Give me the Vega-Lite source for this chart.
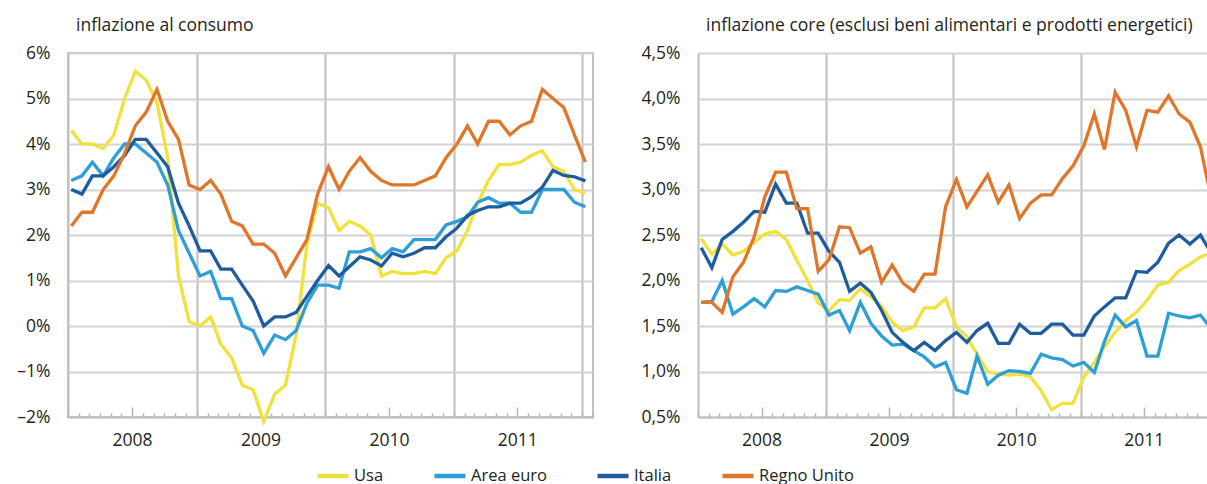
{
  "$schema": "https://vega.github.io/schema/vega-lite/v6.json",
  "background": "white",
  "padding": {"left": 5, "top": 15, "right": 0, "bottom": 0},
  "spacing": 41,
  "config": {
    "font": "Open Sans",
    "view": {"stroke": null},
    "title": {"fontSize": 17.5, "fontWeight": "normal", "color": "#231F20", "anchor": "start", "frame": "group", "dx": 8, "offset": 10}
  },
  "datasets": {
    "consumo": [
      {"d": "2008-01", "Usa": 4.3, "Area euro": 3.2, "Italia": 3.0, "Regno Unito": 2.2},
      {"d": "2008-02", "Usa": 4.0, "Area euro": 3.3, "Italia": 2.9, "Regno Unito": 2.5},
      {"d": "2008-03", "Usa": 4.0, "Area euro": 3.6, "Italia": 3.3, "Regno Unito": 2.5},
      {"d": "2008-04", "Usa": 3.9, "Area euro": 3.3, "Italia": 3.3, "Regno Unito": 3.0},
      {"d": "2008-05", "Usa": 4.2, "Area euro": 3.7, "Italia": 3.5, "Regno Unito": 3.3},
      {"d": "2008-06", "Usa": 5.0, "Area euro": 4.0, "Italia": 3.75, "Regno Unito": 3.8},
      {"d": "2008-07", "Usa": 5.6, "Area euro": 4.0, "Italia": 4.1, "Regno Unito": 4.4},
      {"d": "2008-08", "Usa": 5.4, "Area euro": 3.8, "Italia": 4.1, "Regno Unito": 4.7},
      {"d": "2008-09", "Usa": 4.9, "Area euro": 3.6, "Italia": 3.8, "Regno Unito": 5.2},
      {"d": "2008-10", "Usa": 3.7, "Area euro": 3.1, "Italia": 3.5, "Regno Unito": 4.5},
      {"d": "2008-11", "Usa": 1.1, "Area euro": 2.1, "Italia": 2.7, "Regno Unito": 4.1},
      {"d": "2008-12", "Usa": 0.1, "Area euro": 1.6, "Italia": 2.2, "Regno Unito": 3.1},
      {"d": "2009-01", "Usa": 0.0, "Area euro": 1.1, "Italia": 1.65, "Regno Unito": 3.0},
      {"d": "2009-02", "Usa": 0.2, "Area euro": 1.2, "Italia": 1.65, "Regno Unito": 3.2},
      {"d": "2009-03", "Usa": -0.4, "Area euro": 0.6, "Italia": 1.25, "Regno Unito": 2.9},
      {"d": "2009-04", "Usa": -0.7, "Area euro": 0.6, "Italia": 1.25, "Regno Unito": 2.3},
      {"d": "2009-05", "Usa": -1.3, "Area euro": 0.0, "Italia": 0.9, "Regno Unito": 2.2},
      {"d": "2009-06", "Usa": -1.4, "Area euro": -0.1, "Italia": 0.55, "Regno Unito": 1.8},
      {"d": "2009-07", "Usa": -2.1, "Area euro": -0.6, "Italia": 0.0, "Regno Unito": 1.8},
      {"d": "2009-08", "Usa": -1.5, "Area euro": -0.2, "Italia": 0.2, "Regno Unito": 1.6},
      {"d": "2009-09", "Usa": -1.3, "Area euro": -0.3, "Italia": 0.2, "Regno Unito": 1.1},
      {"d": "2009-10", "Usa": -0.2, "Area euro": -0.1, "Italia": 0.3, "Regno Unito": 1.5},
      {"d": "2009-11", "Usa": 1.8, "Area euro": 0.5, "Italia": 0.65, "Regno Unito": 1.9},
      {"d": "2009-12", "Usa": 2.7, "Area euro": 0.9, "Italia": 1.0, "Regno Unito": 2.9},
      {"d": "2010-01", "Usa": 2.6, "Area euro": 0.9, "Italia": 1.33, "Regno Unito": 3.5},
      {"d": "2010-02", "Usa": 2.1, "Area euro": 0.83, "Italia": 1.1, "Regno Unito": 3.0},
      {"d": "2010-03", "Usa": 2.3, "Area euro": 1.63, "Italia": 1.3, "Regno Unito": 3.4},
      {"d": "2010-04", "Usa": 2.2, "Area euro": 1.63, "Italia": 1.52, "Regno Unito": 3.7},
      {"d": "2010-05", "Usa": 2.0, "Area euro": 1.7, "Italia": 1.45, "Regno Unito": 3.4},
      {"d": "2010-06", "Usa": 1.1, "Area euro": 1.5, "Italia": 1.32, "Regno Unito": 3.2},
      {"d": "2010-07", "Usa": 1.2, "Area euro": 1.7, "Italia": 1.6, "Regno Unito": 3.1},
      {"d": "2010-08", "Usa": 1.15, "Area euro": 1.63, "Italia": 1.52, "Regno Unito": 3.1},
      {"d": "2010-09", "Usa": 1.15, "Area euro": 1.9, "Italia": 1.6, "Regno Unito": 3.1},
      {"d": "2010-10", "Usa": 1.2, "Area euro": 1.9, "Italia": 1.72, "Regno Unito": 3.2},
      {"d": "2010-11", "Usa": 1.15, "Area euro": 1.9, "Italia": 1.72, "Regno Unito": 3.3},
      {"d": "2010-12", "Usa": 1.5, "Area euro": 2.22, "Italia": 1.96, "Regno Unito": 3.7},
      {"d": "2011-01", "Usa": 1.65, "Area euro": 2.3, "Italia": 2.15, "Regno Unito": 4.0},
      {"d": "2011-02", "Usa": 2.1, "Area euro": 2.4, "Italia": 2.43, "Regno Unito": 4.4},
      {"d": "2011-03", "Usa": 2.7, "Area euro": 2.72, "Italia": 2.54, "Regno Unito": 4.0},
      {"d": "2011-04", "Usa": 3.2, "Area euro": 2.82, "Italia": 2.62, "Regno Unito": 4.5},
      {"d": "2011-05", "Usa": 3.55, "Area euro": 2.7, "Italia": 2.62, "Regno Unito": 4.5},
      {"d": "2011-06", "Usa": 3.55, "Area euro": 2.7, "Italia": 2.7, "Regno Unito": 4.2},
      {"d": "2011-07", "Usa": 3.6, "Area euro": 2.5, "Italia": 2.7, "Regno Unito": 4.4},
      {"d": "2011-08", "Usa": 3.75, "Area euro": 2.5, "Italia": 2.84, "Regno Unito": 4.5},
      {"d": "2011-09", "Usa": 3.85, "Area euro": 3.0, "Italia": 3.05, "Regno Unito": 5.2},
      {"d": "2011-10", "Usa": 3.5, "Area euro": 3.0, "Italia": 3.42, "Regno Unito": 5.0},
      {"d": "2011-11", "Usa": 3.4, "Area euro": 3.0, "Italia": 3.31, "Regno Unito": 4.8},
      {"d": "2011-12", "Usa": 3.0, "Area euro": 2.72, "Italia": 3.28, "Regno Unito": 4.2},
      {"d": "2012-01", "Usa": 2.92, "Area euro": 2.62, "Italia": 3.19, "Regno Unito": 3.6}
    ],
    "core": [
      {"d": "2008-01", "Usa": 2.46, "Area euro": 1.76, "Italia": 2.36, "Regno Unito": 1.76},
      {"d": "2008-02", "Usa": 2.29, "Area euro": 1.77, "Italia": 2.14, "Regno Unito": 1.76},
      {"d": "2008-03", "Usa": 2.40, "Area euro": 2.00, "Italia": 2.45, "Regno Unito": 1.65},
      {"d": "2008-04", "Usa": 2.28, "Area euro": 1.63, "Italia": 2.54, "Regno Unito": 2.04},
      {"d": "2008-05", "Usa": 2.32, "Area euro": 1.71, "Italia": 2.64, "Regno Unito": 2.20},
      {"d": "2008-06", "Usa": 2.42, "Area euro": 1.80, "Italia": 2.76, "Regno Unito": 2.48},
      {"d": "2008-07", "Usa": 2.51, "Area euro": 1.71, "Italia": 2.75, "Regno Unito": 2.92},
      {"d": "2008-08", "Usa": 2.54, "Area euro": 1.89, "Italia": 3.06, "Regno Unito": 3.19},
      {"d": "2008-09", "Usa": 2.45, "Area euro": 1.88, "Italia": 2.85, "Regno Unito": 3.19},
      {"d": "2008-10", "Usa": 2.22, "Area euro": 1.93, "Italia": 2.85, "Regno Unito": 2.79},
      {"d": "2008-11", "Usa": 2.00, "Area euro": 1.89, "Italia": 2.52, "Regno Unito": 2.79},
      {"d": "2008-12", "Usa": 1.75, "Area euro": 1.85, "Italia": 2.52, "Regno Unito": 2.10},
      {"d": "2009-01", "Usa": 1.67, "Area euro": 1.62, "Italia": 2.32, "Regno Unito": 2.23},
      {"d": "2009-02", "Usa": 1.79, "Area euro": 1.67, "Italia": 2.20, "Regno Unito": 2.59},
      {"d": "2009-03", "Usa": 1.78, "Area euro": 1.45, "Italia": 1.88, "Regno Unito": 2.58},
      {"d": "2009-04", "Usa": 1.91, "Area euro": 1.76, "Italia": 1.97, "Regno Unito": 2.30},
      {"d": "2009-05", "Usa": 1.82, "Area euro": 1.53, "Italia": 1.87, "Regno Unito": 2.37},
      {"d": "2009-06", "Usa": 1.72, "Area euro": 1.39, "Italia": 1.67, "Regno Unito": 1.98},
      {"d": "2009-07", "Usa": 1.54, "Area euro": 1.29, "Italia": 1.43, "Regno Unito": 2.17},
      {"d": "2009-08", "Usa": 1.45, "Area euro": 1.30, "Italia": 1.32, "Regno Unito": 1.97},
      {"d": "2009-09", "Usa": 1.49, "Area euro": 1.23, "Italia": 1.23, "Regno Unito": 1.88},
      {"d": "2009-10", "Usa": 1.70, "Area euro": 1.16, "Italia": 1.32, "Regno Unito": 2.07},
      {"d": "2009-11", "Usa": 1.70, "Area euro": 1.05, "Italia": 1.23, "Regno Unito": 2.07},
      {"d": "2009-12", "Usa": 1.80, "Area euro": 1.10, "Italia": 1.34, "Regno Unito": 2.81},
      {"d": "2010-01", "Usa": 1.49, "Area euro": 0.80, "Italia": 1.43, "Regno Unito": 3.11},
      {"d": "2010-02", "Usa": 1.38, "Area euro": 0.76, "Italia": 1.32, "Regno Unito": 2.81},
      {"d": "2010-03", "Usa": 1.19, "Area euro": 1.17, "Italia": 1.45, "Regno Unito": 2.98},
      {"d": "2010-04", "Usa": 1.00, "Area euro": 0.86, "Italia": 1.53, "Regno Unito": 3.16},
      {"d": "2010-05", "Usa": 0.97, "Area euro": 0.96, "Italia": 1.31, "Regno Unito": 2.86},
      {"d": "2010-06", "Usa": 0.96, "Area euro": 1.01, "Italia": 1.31, "Regno Unito": 3.05},
      {"d": "2010-07", "Usa": 0.97, "Area euro": 1.00, "Italia": 1.52, "Regno Unito": 2.68},
      {"d": "2010-08", "Usa": 0.94, "Area euro": 0.98, "Italia": 1.42, "Regno Unito": 2.85},
      {"d": "2010-09", "Usa": 0.79, "Area euro": 1.19, "Italia": 1.42, "Regno Unito": 2.94},
      {"d": "2010-10", "Usa": 0.58, "Area euro": 1.15, "Italia": 1.52, "Regno Unito": 2.94},
      {"d": "2010-11", "Usa": 0.65, "Area euro": 1.13, "Italia": 1.52, "Regno Unito": 3.12},
      {"d": "2010-12", "Usa": 0.65, "Area euro": 1.06, "Italia": 1.40, "Regno Unito": 3.26},
      {"d": "2011-01", "Usa": 0.94, "Area euro": 1.10, "Italia": 1.40, "Regno Unito": 3.48},
      {"d": "2011-02", "Usa": 1.10, "Area euro": 0.99, "Italia": 1.61, "Regno Unito": 3.83},
      {"d": "2011-03", "Usa": 1.27, "Area euro": 1.33, "Italia": 1.71, "Regno Unito": 3.44},
      {"d": "2011-04", "Usa": 1.43, "Area euro": 1.62, "Italia": 1.81, "Regno Unito": 4.07},
      {"d": "2011-05", "Usa": 1.56, "Area euro": 1.49, "Italia": 1.81, "Regno Unito": 3.87},
      {"d": "2011-06", "Usa": 1.65, "Area euro": 1.56, "Italia": 2.10, "Regno Unito": 3.47},
      {"d": "2011-07", "Usa": 1.78, "Area euro": 1.17, "Italia": 2.09, "Regno Unito": 3.87},
      {"d": "2011-08", "Usa": 1.95, "Area euro": 1.17, "Italia": 2.20, "Regno Unito": 3.85},
      {"d": "2011-09", "Usa": 1.98, "Area euro": 1.64, "Italia": 2.41, "Regno Unito": 4.03},
      {"d": "2011-10", "Usa": 2.11, "Area euro": 1.61, "Italia": 2.50, "Regno Unito": 3.83},
      {"d": "2011-11", "Usa": 2.18, "Area euro": 1.59, "Italia": 2.40, "Regno Unito": 3.74},
      {"d": "2011-12", "Usa": 2.26, "Area euro": 1.62, "Italia": 2.50, "Regno Unito": 3.47},
      {"d": "2012-01", "Usa": 2.30, "Area euro": 1.47, "Italia": 2.30, "Regno Unito": 2.90}
    ]
  },
  "resolve": {"scale": {"color": "shared", "x": "independent", "y": "independent"}, "legend": {"color": "shared"}},
  "hconcat": [
    {
      "width": 525,
      "height": 364,
      "title": {"text": "inflazione al consumo"},
      "view": {"stroke": "#BEBEC3", "strokeWidth": 2},
      "data": {"name": "consumo"},
      "transform": [{"fold": ["Usa", "Area euro", "Italia", "Regno Unito"], "as": ["paese", "valore"]}],
      "mark": {"type": "line", "strokeWidth": 3.3},
      "encoding": {
        "x": {
          "field": "d", "type": "temporal", "timeUnit": "utcyearmonth", "bandPosition": 0.3,
          "scale": {"type": "utc", "domain": [{"year": 2008, "month": 1, "date": 1, "utc": true}, {"year": 2012, "month": 2, "date": 1, "utc": true}]},
          "axis": {
            "title": null, "orient": "bottom",
            "tickCount": {"interval": "month", "step": 1},
            "labelExpr": "utcmonth(datum.value) == 6 ? '' + utcyear(datum.value) : ''",
            "labelOverlap": false, "labelFlush": false,
            "tickSize": {"condition": {"test": "utcmonth(datum.value) == 6", "value": -10}, "value": -4},
            "tickColor": "#B4B4B9", "tickWidth": 1.5,
            "domainColor": "#BEBEC3", "domainWidth": 2,
            "grid": true,
            "gridOpacity": {"condition": {"test": "utcmonth(datum.value) == 0", "value": 1}, "value": 0},
            "gridColor": "#BEBEC3", "gridWidth": 2,
            "labelPadding": 24, "labelFontSize": 17.5, "labelColor": "#231F20"
          }
        },
        "y": {
          "field": "valore", "type": "quantitative",
          "scale": {"domain": [-2, 6], "nice": false},
          "axis": {
            "title": null, "values": [-2, -1, 0, 1, 2, 3, 4, 5, 6],
            "labelExpr": "(datum.value < 0 ? '–' + abs(datum.value) : '' + datum.value) + '%'",
            "grid": true, "gridColor": "#D2D2D5", "gridWidth": 2,
            "domain": false, "ticks": false, "tickSize": 0,
            "labelPadding": 18, "labelFontSize": 17.5, "labelColor": "#231F20",
            "minExtent": 62, "maxExtent": 62
          }
        },
        "color": {
          "field": "paese", "type": "nominal",
          "scale": {"domain": ["Usa", "Area euro", "Italia", "Regno Unito"], "range": ["#EFE23B", "#2E9ED8", "#1E5C9E", "#E0762A"]},
          "legend": {
            "title": null, "orient": "none", "direction": "horizontal",
            "legendX": 247, "legendY": 405,
            "symbolType": "stroke", "symbolSize": 961, "symbolStrokeWidth": 4.5,
            "labelFontSize": 16.5, "labelColor": "#231F20", "labelOffset": 3,
            "columnPadding": 41, "padding": 0
          }
        }
      }
    },
    {
      "width": 510,
      "height": 364,
      "title": {"text": "inflazione core (esclusi beni alimentari e prodotti energetici)"},
      "data": {"name": "core"},
      "transform": [{"fold": ["Usa", "Area euro", "Italia", "Regno Unito"], "as": ["paese", "valore"]}],
      "mark": {"type": "line", "strokeWidth": 3.3, "clip": true},
      "encoding": {
        "x": {
          "field": "d", "type": "temporal", "timeUnit": "utcyearmonth", "bandPosition": 0.3,
          "scale": {"type": "utc", "domain": [{"year": 2008, "month": 1, "date": 1, "utc": true}, {"year": 2012, "month": 1, "date": 1, "utc": true}]},
          "axis": {
            "title": null, "orient": "bottom",
            "tickCount": {"interval": "month", "step": 1},
            "labelExpr": "utcmonth(datum.value) == 6 ? '' + utcyear(datum.value) : ''",
            "labelOverlap": false, "labelFlush": false,
            "tickSize": {"condition": {"test": "utcmonth(datum.value) == 6", "value": -10}, "value": -4},
            "tickColor": "#B4B4B9", "tickWidth": 1.5,
            "domainColor": "#BEBEC3", "domainWidth": 2,
            "grid": true,
            "gridOpacity": {"condition": {"test": "utcmonth(datum.value) == 0 && utcyear(datum.value) < 2012", "value": 1}, "value": 0},
            "gridColor": "#BEBEC3", "gridWidth": 2,
            "labelPadding": 24, "labelFontSize": 17.5, "labelColor": "#231F20"
          }
        },
        "y": {
          "field": "valore", "type": "quantitative",
          "scale": {"domain": [0.5, 4.5], "nice": false},
          "axis": {
            "title": null, "values": [0.5, 1, 1.5, 2, 2.5, 3, 3.5, 4, 4.5],
            "labelExpr": "replace(format(datum.value, '.1f'), '.', ',') + '%'",
            "grid": true, "gridColor": "#D2D2D5", "gridWidth": 2,
            "domain": false, "ticks": false, "tickSize": 0,
            "labelPadding": 18, "labelFontSize": 17.5, "labelColor": "#231F20",
            "minExtent": 62, "maxExtent": 62
          }
        },
        "color": {
          "field": "paese", "type": "nominal",
          "scale": {"domain": ["Usa", "Area euro", "Italia", "Regno Unito"], "range": ["#EFE23B", "#2E9ED8", "#1E5C9E", "#E0762A"]}
        }
      }
    }
  ]
}
